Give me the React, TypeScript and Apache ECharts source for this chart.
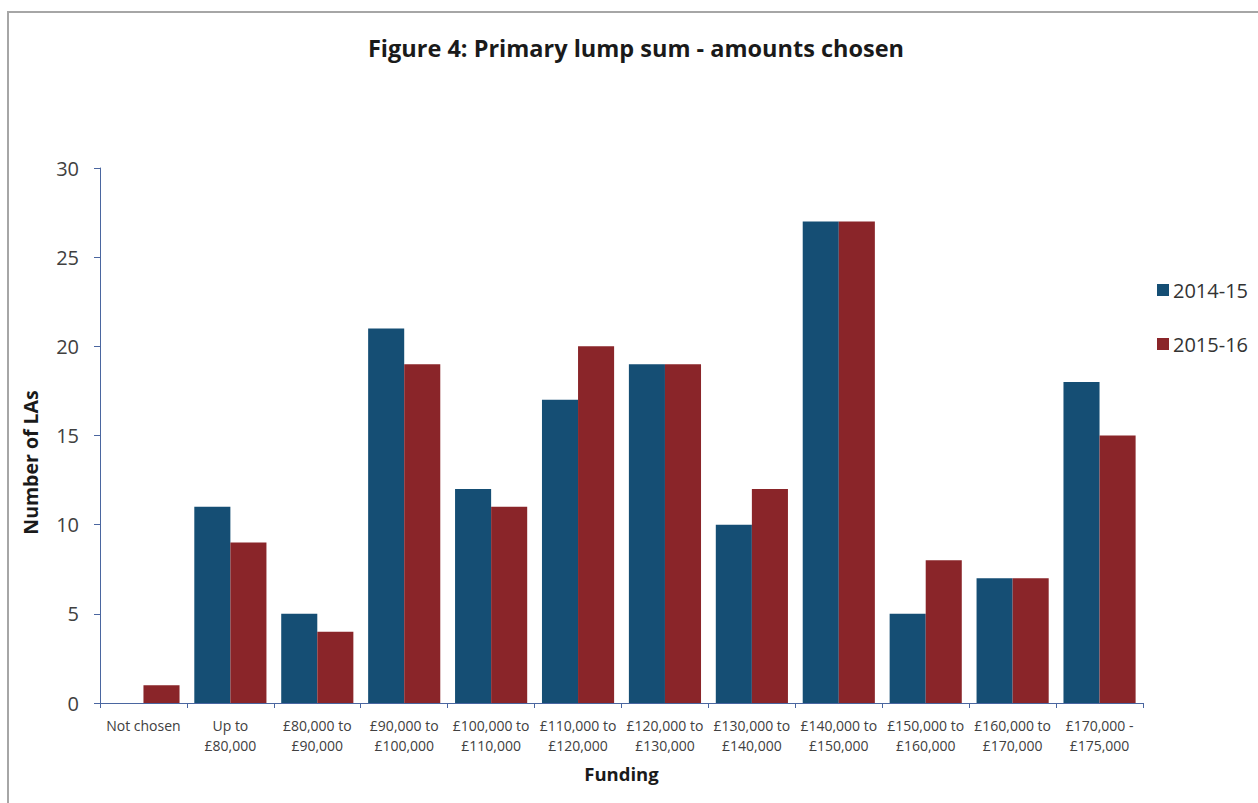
import React, { useEffect, useRef } from "react";
import * as echarts from "echarts";

const categories = [
  "Not chosen",
  "Up to\n£80,000",
  "£80,000 to\n£90,000",
  "£90,000 to\n£100,000",
  "£100,000 to\n£110,000",
  "£110,000 to\n£120,000",
  "£120,000 to\n£130,000",
  "£130,000 to\n£140,000",
  "£140,000 to\n£150,000",
  "£150,000 to\n£160,000",
  "£160,000 to\n£170,000",
  "£170,000 -\n£175,000",
];
const series2014 = [0, 11, 5, 21, 12, 17, 19, 10, 27, 5, 7, 18];
const series2015 = [1, 9, 4, 19, 11, 20, 19, 12, 27, 8, 7, 15];
const seriesNames = ["2014-15", "2015-16"];
const colors = ["#154E74", "#8A2529"];

const FONT = "'Open Sans', 'Noto Sans', sans-serif";

export default function App() {
  const ref = useRef<HTMLDivElement>(null);
  useEffect(() => {
    if (!ref.current) return;
    const chart = echarts.init(ref.current, null, { renderer: "svg" });
    chart.setOption({
      animation: false,
      backgroundColor: "#ffffff",
      textStyle: { fontFamily: FONT },
      title: {
        text: "Figure 4: Primary lump sum - amounts chosen",
        left: 631,
        top: 31,
        textAlign: "center",
        textStyle: { fontFamily: FONT, fontSize: 23.5, fontWeight: "bold", color: "#1a1a1a" },
      },
      legend: {
        orient: "vertical",
        left: 1152,
        top: 275,
        itemWidth: 12,
        itemHeight: 12,
        itemGap: 34,
        icon: "rect",
        data: seriesNames,
        textStyle: { fontFamily: FONT, fontSize: 20, color: "#333333", padding: [0, 0, 0, -1] },
      },
      grid: { left: 100, right: 115, top: 168, bottom: 100, containLabel: false },
      graphic: [
        {
          type: "polyline",
          shape: { points: [[8, 803], [8, 12], [1258, 12]] },
          style: { stroke: "#A6A6A6", lineWidth: 2, fill: "none" },
          silent: true,
        },
      ],
      xAxis: {
        type: "category",
        data: categories,
        name: "Funding",
        nameLocation: "middle",
        nameGap: 61,
        nameTextStyle: { fontFamily: FONT, fontSize: 18.5, fontWeight: "bold", color: "#1a1a1a" },
        axisLine: { lineStyle: { color: "#4A66A0", width: 1 } },
        axisTick: { show: true, length: 5, lineStyle: { color: "#4A66A0" } },
        axisLabel: {
          interval: 0,
          margin: 12,
          fontFamily: FONT,
          fontSize: 14,
          lineHeight: 20,
          color: "#404040",
        },
      },
      yAxis: {
        type: "value",
        min: 0,
        max: 30,
        interval: 5,
        name: "Number of LAs",
        nameLocation: "middle",
        nameGap: 60,
        nameRotate: 90,
        nameTextStyle: {
          fontFamily: FONT,
          fontSize: 19.5,
          fontWeight: "bold",
          color: "#1a1a1a",
          padding: [0, 54, 0, 0],
        },
        axisLine: { show: true, lineStyle: { color: "#4A66A0", width: 1 } },
        axisTick: { show: true, length: 6, lineStyle: { color: "#4A66A0" } },
        axisLabel: { margin: 21, fontFamily: FONT, fontSize: 20, color: "#404040" },
        splitLine: { show: false },
      },
      series: [
        {
          name: seriesNames[0],
          type: "bar",
          data: series2014,
          itemStyle: { color: colors[0] },
          barGap: "0%",
          barCategoryGap: "17%",
        },
        {
          name: seriesNames[1],
          type: "bar",
          data: series2015,
          itemStyle: { color: colors[1] },
          barGap: "0%",
          barCategoryGap: "17%",
        },
      ],
    });
    return () => chart.dispose();
  }, []);
  return (
    <div
      ref={ref}
      style={{ position: "fixed", left: 0, top: 0, width: 1258, height: 803 }}
    />
  );
}
